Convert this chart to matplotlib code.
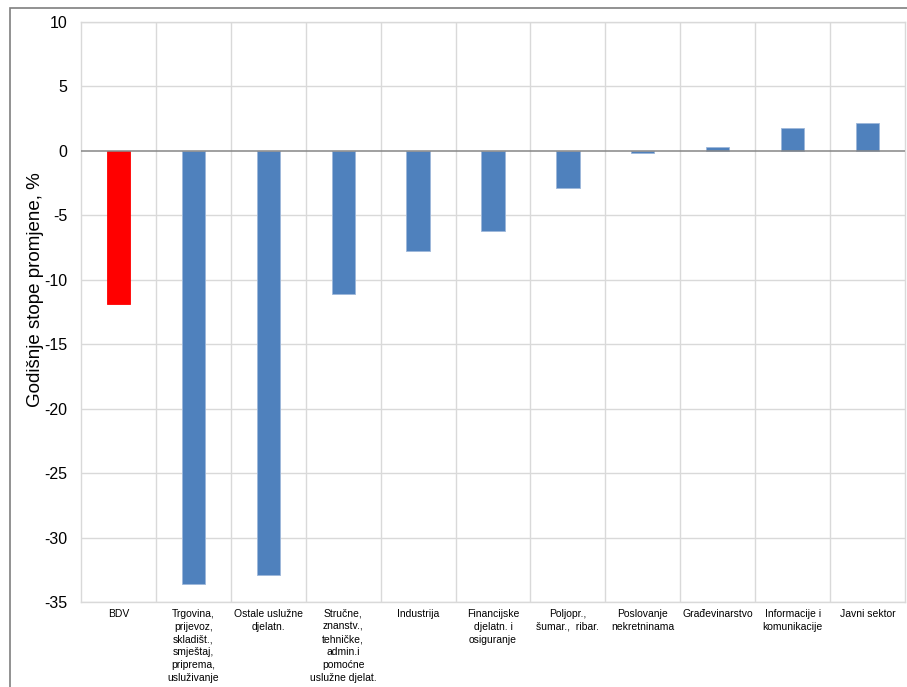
import matplotlib
matplotlib.use("Agg")
import matplotlib.pyplot as plt
from matplotlib.patches import Rectangle
import numpy as np

plt.rcParams['font.family'] = ['Liberation Sans', 'DejaVu Sans']

categories = ["BDV",
              "Trgovina,\nprijevoz,\nskladišt.,\nsmještaj,\npriprema,\nusluživanje",
              "Ostale uslužne\ndjelatn.",
              "Stručne,\nznanstv.,\ntehničke,\nadmin.i\npomoćne\nuslužne djelat.",
              "Industrija",
              "Financijske\ndjelatn. i\nosiguranje",
              "Poljopr.,\nšumar.,  ribar.",
              "Poslovanje\nnekretninama",
              "Građevinarstvo",
              "Informacije i\nkomunikacije",
              "Javni sektor"]
values = [-11.9, -33.6, -32.9, -11.1, -7.8, -6.2, -2.9, -0.2, 0.3, 1.8, 2.2]
y_ticks = [10, 5, 0, -5, -10, -15, -20, -25, -30, -35]

fig = plt.figure(figsize=(9.07, 6.87), dpi=100)
ax = fig.add_axes([81/907, 1-602/687, (905-81)/907, (602-22)/687])

# outer frame
fig.patches.append(Rectangle((10/907, -0.1), 1.2, 1-8/687+0.1, transform=fig.transFigure,
                             fill=False, edgecolor='#7f7f7f', linewidth=1.2, zorder=0))

x = np.arange(len(categories))
colors = ['#FF0000'] + ['#4F81BD'] * (len(categories) - 1)
ax.bar(x, values, width=0.31, color=colors, edgecolor='#9DB7DA', linewidth=0.6, zorder=3)
ax.patches[0].set_edgecolor('#FF0000')

ax.set_xlim(-0.5, len(categories) - 0.5)
ax.set_ylim(-35, 10)
ax.set_yticks(y_ticks)
ax.set_yticklabels([str(t) for t in y_ticks], fontsize=11.5)
ax.tick_params(axis='y', length=0, pad=10)
ax.set_xticks(x)
ax.set_xticklabels(categories, fontsize=7.5, linespacing=1.35, va='top')
ax.tick_params(axis='x', length=0, pad=5)

for t in y_ticks:
    if t != 0:
        ax.axhline(t, color='#D9D9D9', linewidth=1, zorder=1)
for b in np.arange(0.5, len(categories) - 0.5, 1):
    ax.axvline(b, color='#D9D9D9', linewidth=1, zorder=1)
ax.axhline(0, color='#868686', linewidth=1.1, zorder=4)

for s in ax.spines.values():
    s.set_color('#D9D9D9')
    s.set_linewidth(1)

ax.set_ylabel("Godišnje stope promjene, %", fontsize=13.5)
ax.yaxis.set_label_coords((44 - 81) / 824, (602 - 290) / 580)

fig.savefig("out.png", dpi=100)
